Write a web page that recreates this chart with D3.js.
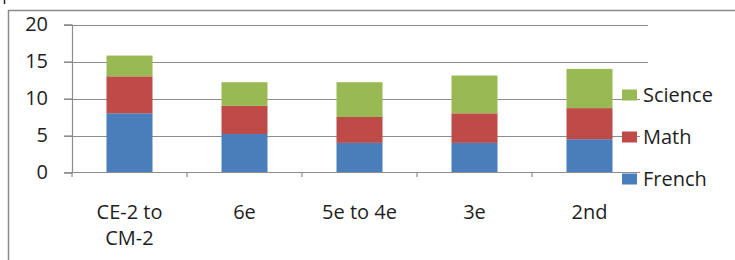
<!DOCTYPE html>
<html>
<head>
<meta charset="utf-8">
<script src="https://cdn.jsdelivr.net/npm/d3@7"></script>
<style>
	body { margin: 0; background: #fff; }
	svg { display: block; font-family: "Open Sans", "Liberation Sans", sans-serif; }
</style>
</head>
<body>
<svg id="chart" width="735" height="260"></svg>
<script>

var categories = [ ["CE-2 to", "CM-2"], ["6e"], ["5e to 4e"], ["3e"], ["2nd"] ];
var french  = [ 8, 5.2, 4, 4, 4.5 ];
var math    = [ 5, 3.8, 3.5, 4, 4.2 ];
var science = [ 2.8, 3.2, 4.7, 5.1, 5.3 ];
var yTicks  = [ 0, 5, 10, 15, 20 ];

var series = [
	{ name: "French", values: french, color: "#4a7ebb" },
	{ name: "Math", values: math, color: "#be4b48" },
	{ name: "Science", values: science, color: "#98b954" }
];

var svg = d3.select("#chart");

// outer frame + stray mark top left
svg.append("path")
	.attr("d", "M8.5,260 V10.5 H735")
	.attr("fill", "none")
	.attr("stroke", "#8a8a8a")
	.attr("stroke-width", 1.5);

svg.append("line")
	.attr("x1", 4.5).attr("x2", 4.5)
	.attr("y1", 0).attr("y2", 4)
	.attr("stroke", "#222")
	.attr("stroke-width", 1.5);

var x = d3.scaleBand()
	.domain(d3.range(categories.length))
	.range([72, 647])
	.paddingInner(0.6)
	.paddingOuter(0.3);

var y = d3.scaleLinear().domain([0, 20]).range([172.5, 24.5]);

// gridlines
svg.append("g")
	.selectAll("line")
	.data(yTicks.slice(1))
	.join("line")
	.attr("x1", 64)
	.attr("x2", 648)
	.attr("y1", d => Math.round(y(d)) + 0.5)
	.attr("y2", d => Math.round(y(d)) + 0.5)
	.attr("stroke", "#8c8c8c")
	.attr("stroke-width", 1.2);

// y axis
var yAxis = svg.append("g")
	.attr("transform", "translate(72,0)")
	.call(d3.axisLeft(y).tickValues(yTicks).tickSize(8).tickPadding(16));
yAxis.select(".domain").attr("stroke", "#8c8c8c").attr("stroke-width", 1.2);
yAxis.selectAll(".tick line").attr("stroke", "#8c8c8c").attr("stroke-width", 1.2);
yAxis.selectAll(".tick text")
	.attr("fill", "#1e1e1e")
	.style("font-size", "20px")
	.style("font-family", "\"Open Sans\", sans-serif");

// stacked bars
var stack = d3.stack()
	.keys(series.map((s, i) => i))
	.value((d, k) => series[k].values[d]);

var layers = stack(d3.range(categories.length));

svg.append("g")
	.selectAll("g")
	.data(layers)
	.join("g")
	.attr("fill", (d, i) => series[i].color)
	.selectAll("rect")
	.data(d => d)
	.join("rect")
	.attr("x", d => x(d.data))
	.attr("width", x.bandwidth())
	.attr("y", d => y(d[1]))
	.attr("height", d => y(d[0]) - y(d[1]));

// x axis
var step = x.step();
svg.append("line")
	.attr("x1", 64).attr("x2", 648)
	.attr("y1", 172.5).attr("y2", 172.5)
	.attr("stroke", "#8c8c8c")
	.attr("stroke-width", 1.2);

svg.append("g")
	.selectAll("line")
	.data(d3.range(categories.length + 1))
	.join("line")
	.attr("x1", i => 72 + i * step)
	.attr("x2", i => 72 + i * step)
	.attr("y1", 172.5)
	.attr("y2", 177)
	.attr("stroke", "#8c8c8c")
	.attr("stroke-width", 1.2);

svg.append("g")
	.selectAll("text")
	.data(categories)
	.join("text")
	.attr("x", (d, i) => x(i) + x.bandwidth() / 2)
	.attr("y", 219)
	.attr("text-anchor", "middle")
	.attr("fill", "#1e1e1e")
	.style("font-size", "20px")
	.selectAll("tspan")
	.data(d => d)
	.join("tspan")
	.attr("x", function() { return d3.select(this.parentNode).attr("x"); })
	.attr("dy", (d, i) => i === 0 ? 0 : 26)
	.text(d => d);

// legend
svg.append("rect")
	.attr("x", 640).attr("y", 84)
	.attr("width", 90).attr("height", 110)
	.attr("fill", "#fff");

var legend = svg.append("g")
	.selectAll("g")
	.data(series.slice().reverse())
	.join("g")
	.attr("transform", (d, i) => `translate(622,${95 + i * 42})`);

legend.append("rect")
	.attr("y", -5.5)
	.attr("width", 15)
	.attr("height", 11)
	.attr("fill", d => d.color);

legend.append("text")
	.attr("x", 21)
	.attr("y", 7)
	.attr("fill", "#1e1e1e")
	.style("font-size", "20px")
	.text(d => d.name);

</script>
</body>
</html>
